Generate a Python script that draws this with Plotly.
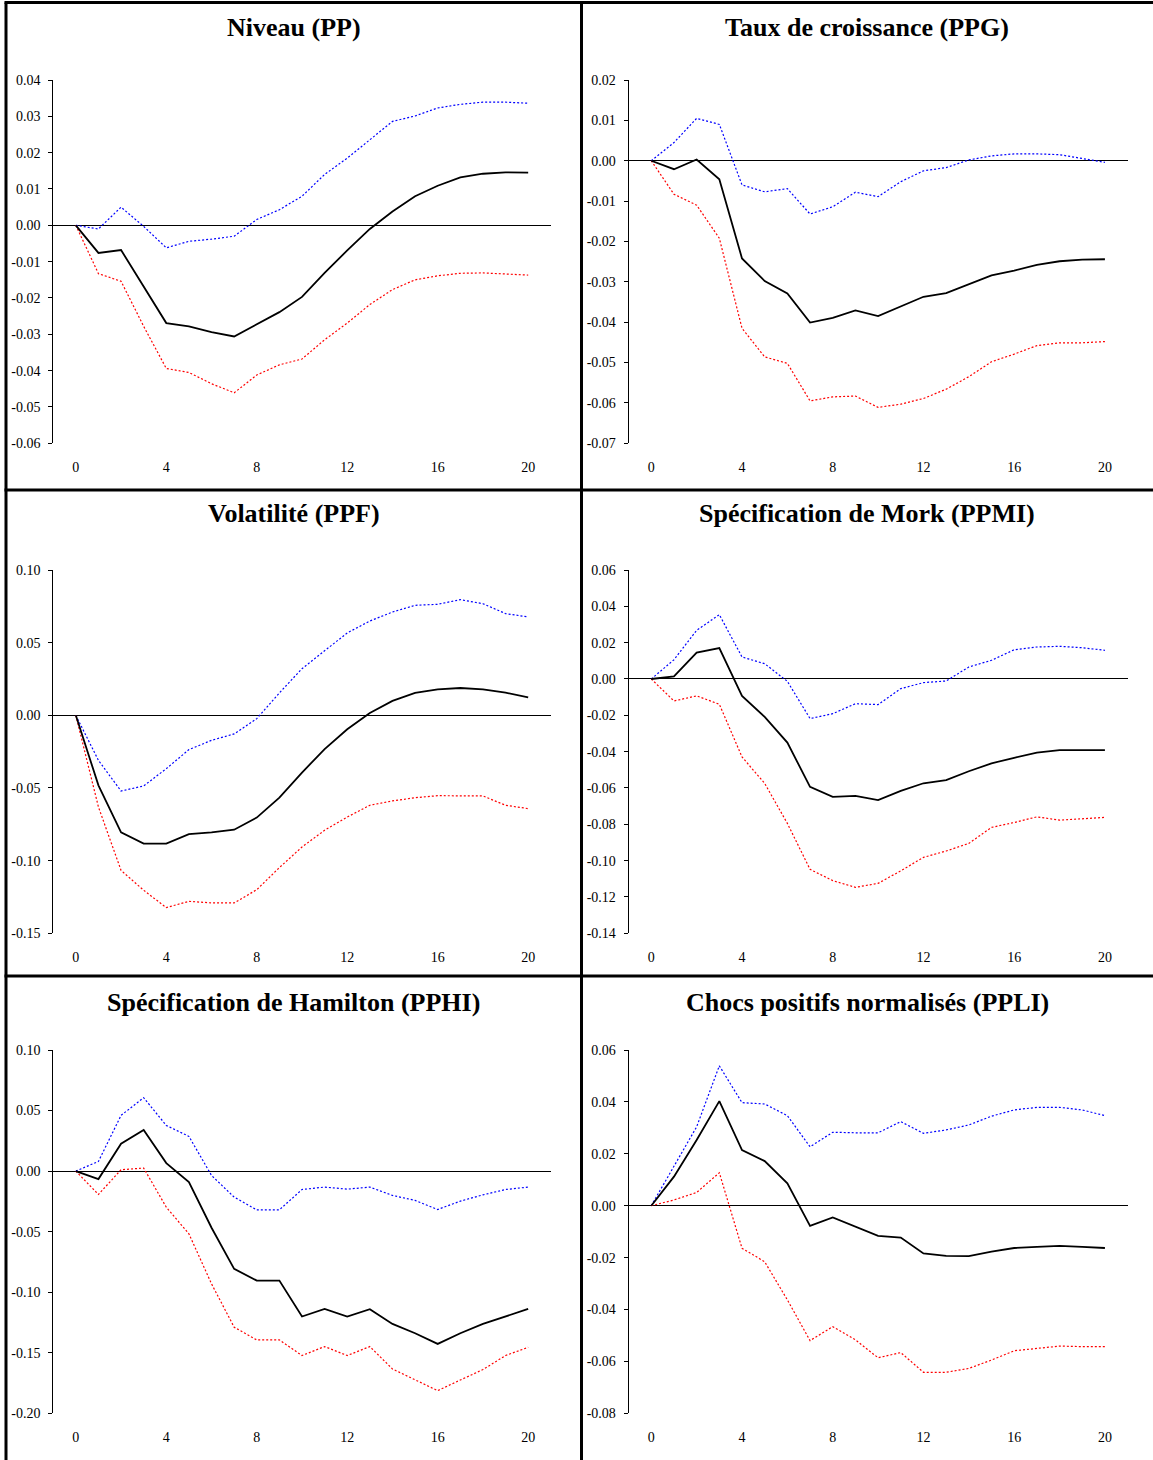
import plotly.graph_objects as go

W, H = 1153, 1460

horizon = list(range(21))
x_ticks = [0, 4, 8, 12, 16, 20]

titles = [
    "Niveau (PP)",
    "Taux de croissance (PPG)",
    "Volatilité (PPF)",
    "Spécification de Mork (PPMI)",
    "Spécification de Hamilton (PPHI)",
    "Chocs positifs normalisés (PPLI)",
]

pp_irf = [0, -0.0076, -0.0068, -0.017, -0.0269, -0.0278, -0.0294, -0.0306, -0.0273, -0.0239, -0.0197,
          -0.0131, -0.0069, -0.001, 0.0038, 0.008, 0.0109, 0.0132, 0.0142, 0.0146, 0.0145]
pp_up = [0, -0.001, 0.005, -0.0003, -0.0062, -0.0044, -0.0038, -0.003, 0.0016, 0.0043, 0.008,
         0.014, 0.0185, 0.0235, 0.0286, 0.0301, 0.0323, 0.0333, 0.0339, 0.0339, 0.0336]
pp_lo = [0, -0.0133, -0.0154, -0.0278, -0.0394, -0.0405, -0.0436, -0.0461, -0.0412, -0.0384, -0.0368,
         -0.0315, -0.0269, -0.0218, -0.0177, -0.015, -0.0139, -0.0132, -0.0131, -0.0133, -0.0137]

ppg_irf = [0, -0.0021, 0.0003, -0.0046, -0.0242, -0.0298, -0.0329, -0.0401, -0.0389, -0.0371, -0.0385,
           -0.036, -0.0337, -0.0328, -0.0305, -0.0284, -0.0272, -0.0258, -0.0249, -0.0245, -0.0244]
ppg_up = [0, 0.0045, 0.0105, 0.009, -0.006, -0.0077, -0.0069, -0.0132, -0.0114, -0.0078, -0.0089,
          -0.0052, -0.0025, -0.0017, 0.0002, 0.0012, 0.0017, 0.0017, 0.0015, 0.0005, -0.0004]
ppg_lo = [0, -0.0083, -0.011, -0.0192, -0.0415, -0.0486, -0.0502, -0.0595, -0.0585, -0.0583, -0.0611,
          -0.0603, -0.0589, -0.0566, -0.0535, -0.0498, -0.0479, -0.0458, -0.0451, -0.0451, -0.0448]

ppf_irf = [0, -0.0482, -0.0805, -0.0883, -0.0883, -0.0817, -0.0805, -0.0787, -0.0704, -0.0567, -0.0394,
           -0.0232, -0.0096, 0.0016, 0.0099, 0.0154, 0.0179, 0.0188, 0.0179, 0.0156, 0.0124]
ppf_up = [0, -0.031, -0.0521, -0.0486, -0.0367, -0.0236, -0.0172, -0.0128, -0.0023, 0.0154, 0.0321,
          0.0447, 0.0567, 0.0649, 0.0711, 0.0757, 0.0764, 0.0796, 0.0768, 0.07, 0.0677]
ppf_lo = [0, -0.0631, -0.1067, -0.1204, -0.1323, -0.128, -0.1291, -0.1291, -0.12, -0.1048, -0.0906,
          -0.0791, -0.07, -0.0619, -0.0589, -0.0567, -0.0553, -0.0553, -0.0555, -0.0619, -0.0642]

ppmi_irf = [0, 0.0015, 0.0145, 0.017, -0.0093, -0.0209, -0.035, -0.0594, -0.0649, -0.0643, -0.0667,
            -0.0616, -0.0574, -0.0557, -0.0508, -0.0464, -0.0434, -0.0405, -0.0392, -0.039, -0.0392]
ppmi_up = [0, 0.0106, 0.0268, 0.0354, 0.0121, 0.0084, -0.0013, -0.0218, -0.0191, -0.0136, -0.0141,
           -0.0053, -0.002, -0.0011, 0.0066, 0.0103, 0.0161, 0.0176, 0.018, 0.0172, 0.0158]
ppmi_lo = [0, -0.0121, -0.0093, -0.0139, -0.0429, -0.0575, -0.0795, -0.1048, -0.111, -0.1147, -0.1125,
           -0.1056, -0.0982, -0.0947, -0.0905, -0.0817, -0.079, -0.0759, -0.0777, -0.077, -0.0762]

pphi_irf = [0, -0.0066, 0.0226, 0.0339, 0.0066, -0.0091, -0.0468, -0.0807, -0.0904, -0.0904, -0.1201,
            -0.1138, -0.1201, -0.114, -0.1262, -0.1339, -0.1427, -0.1339, -0.1262, -0.1198, -0.1138]
pphi_up = [0, 0.008, 0.046, 0.0606, 0.0377, 0.0287, -0.0036, -0.0215, -0.032, -0.032, -0.0152,
           -0.0132, -0.0149, -0.0132, -0.0201, -0.0242, -0.0317, -0.0248, -0.0196, -0.0152, -0.0132]
pphi_lo = [0, -0.0193, 0.0011, 0.0025, -0.0298, -0.0518, -0.0931, -0.1289, -0.1394, -0.1394, -0.1523,
           -0.1449, -0.1523, -0.1449, -0.1634, -0.1725, -0.1813, -0.1725, -0.1639, -0.1523, -0.1455]

ppli_irf = [0, 0.0112, 0.0253, 0.0403, 0.0214, 0.0172, 0.0086, -0.0078, -0.0045, -0.0081, -0.0116,
            -0.0123, -0.0184, -0.0193, -0.0194, -0.0177, -0.0163, -0.0159, -0.0155, -0.0159, -0.0163]
ppli_up = [0, 0.015, 0.0304, 0.0539, 0.0397, 0.0392, 0.0347, 0.0227, 0.0283, 0.0281, 0.0281,
           0.0324, 0.0279, 0.0292, 0.0311, 0.0345, 0.0369, 0.0379, 0.0379, 0.0369, 0.0347]
ppli_lo = [0, 0.0022, 0.0051, 0.0127, -0.0164, -0.0216, -0.0363, -0.052, -0.0466, -0.0517, -0.0586,
           -0.0566, -0.0642, -0.0642, -0.0627, -0.0595, -0.0559, -0.055, -0.0541, -0.0543, -0.0543]

y_ticks = [
    [-0.06, -0.05, -0.04, -0.03, -0.02, -0.01, 0.0, 0.01, 0.02, 0.03, 0.04],
    [-0.07, -0.06, -0.05, -0.04, -0.03, -0.02, -0.01, 0.0, 0.01, 0.02],
    [-0.15, -0.10, -0.05, 0.0, 0.05, 0.10],
    [-0.14, -0.12, -0.10, -0.08, -0.06, -0.04, -0.02, 0.0, 0.02, 0.04, 0.06],
    [-0.20, -0.15, -0.10, -0.05, 0.0, 0.05, 0.10],
    [-0.08, -0.06, -0.04, -0.02, 0.0, 0.02, 0.04, 0.06],
]

series = [
    (pp_irf, pp_up, pp_lo),
    (ppg_irf, ppg_up, ppg_lo),
    (ppf_irf, ppf_up, ppf_lo),
    (ppmi_irf, ppmi_up, ppmi_lo),
    (pphi_irf, pphi_up, pphi_lo),
    (ppli_irf, ppli_up, ppli_lo),
]


def fmt(v):
    s = f"{abs(v):.2f}"
    return ("-" + s) if v < -1e-12 else s


def px_x(p):
    return p / W


def px_y(p):
    return 1 - p / H


col_dom = [(53.2, 550.8), (628.6, 1127.6)]
row_dom = [(80, 443.3), (570, 933.3), (1050, 1413.3)]
panel_box_x = [(6, 581.5), (581.5, 1153)]
title_y = [27, 514, 1002]

FONT = "Liberation Serif, Times New Roman, serif"

fig = go.Figure()
annotations = []

for i, (irf, up, lo) in enumerate(series):
    r, c = divmod(i, 2)
    n = i + 1
    xa = "x" if n == 1 else f"x{n}"
    ya = "y" if n == 1 else f"y{n}"
    fig.add_trace(go.Scatter(x=horizon, y=up, mode="lines", xaxis=xa, yaxis=ya,
                             line=dict(color="#0000FF", width=1.2, dash="2px,2px"),
                             showlegend=False, hoverinfo="skip"))
    fig.add_trace(go.Scatter(x=horizon, y=lo, mode="lines", xaxis=xa, yaxis=ya,
                             line=dict(color="#FF0000", width=1.2, dash="2px,2px"),
                             showlegend=False, hoverinfo="skip"))
    fig.add_trace(go.Scatter(x=horizon, y=irf, mode="lines", xaxis=xa, yaxis=ya,
                             line=dict(color="#000000", width=1.8),
                             showlegend=False, hoverinfo="skip"))

    yt = y_ticks[i]
    xkey = "xaxis" if n == 1 else f"xaxis{n}"
    ykey = "yaxis" if n == 1 else f"yaxis{n}"
    fig.layout[xkey] = dict(
        domain=[px_x(col_dom[c][0]), px_x(col_dom[c][1])],
        anchor=ya, range=[-1, 21], tickvals=x_ticks, ticktext=[str(v) for v in x_ticks],
        showgrid=False, zeroline=False, showline=False, ticks="",
        ticklabelstandoff=14, automargin=False,
        tickfont=dict(family=FONT, size=14, color="#000"), fixedrange=True,
    )
    fig.layout[ykey] = dict(
        domain=[px_y(row_dom[r][1]), px_y(row_dom[r][0])],
        anchor=xa, range=[yt[0], yt[-1]], tickvals=yt, ticktext=[fmt(v) for v in yt],
        showgrid=False, zeroline=True, zerolinecolor="#000", zerolinewidth=1,
        showline=True, linecolor="#000", linewidth=1,
        ticks="outside", ticklen=4, tickcolor="#000", tickwidth=1,
        ticklabelstandoff=5, automargin=False,
        tickfont=dict(family=FONT, size=14, color="#000"), fixedrange=True,
    )
    annotations.append(dict(
        text=f"<b>{titles[i]}</b>", xref="paper", yref="paper",
        x=px_x((panel_box_x[c][0] + panel_box_x[c][1]) / 2), y=px_y(title_y[r]),
        xanchor="center", yanchor="middle", showarrow=False,
        font=dict(family=FONT, size=26, color="#000"),
    ))

shapes = []
line_style = dict(color="#000", width=3)
for xp in [6, 581.5]:
    shapes.append(dict(type="line", xref="paper", yref="paper",
                       x0=px_x(xp), x1=px_x(xp), y0=px_y(2.5), y1=px_y(1460),
                       line=line_style))
for yp in [2.5, 490, 976]:
    shapes.append(dict(type="line", xref="paper", yref="paper",
                       x0=px_x(4.5), x1=px_x(1153), y0=px_y(yp), y1=px_y(yp),
                       line=line_style))

fig.update_layout(
    width=W, height=H, margin=dict(l=0, r=0, t=0, b=0, pad=0), autosize=False,
    paper_bgcolor="#fff", plot_bgcolor="rgba(0,0,0,0)",
    annotations=annotations, shapes=shapes, showlegend=False,
    font=dict(family=FONT, color="#000"),
)

fig.write_html("out.html", config={"displayModeBar": False, "responsive": False})
